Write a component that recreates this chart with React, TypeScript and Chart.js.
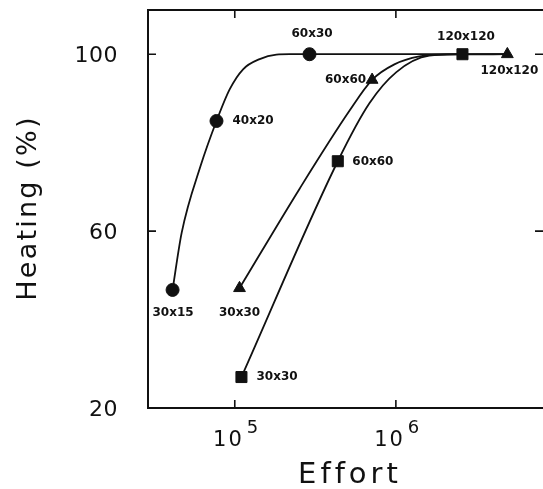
import React, { useEffect, useRef } from 'react';
import { Chart, registerables } from 'chart.js';

Chart.register(...registerables);

// ---- data ----
const xTickValues = [1e5, 1e6];
const xTickExponents = ['5', '6'];
const yTickValues = [20, 60, 100];

const circleEffort = [4.11e4, 7.7e4, 2.91e5];
const circleHeating = [46.7, 84.9, 100];
const circleLabels = ['30x15', '40x20', '60x30'];

const triangleEffort = [1.07e5, 7.12e5, 4.92e6];
const triangleHeating = [47.1, 94.2, 100];
const triangleLabels = ['30x30', '60x60', '120x120'];

const squareEffort = [1.1e5, 4.36e5, 2.59e6];
const squareHeating = [27.0, 75.8, 100];
const squareLabels = ['30x30', '60x60', '120x120'];

// traced points along the drawn curves
const circleCurveEffort = [4.11e4, 4.68e4, 6.13e4, 7.7e4, 9.31e4, 1.126e5, 1.428e5, 1.813e5, 2.19e5, 2.91e5, 4.92e6];
const circleCurveHeating = [46.7, 59.6, 74.7, 84.9, 92.1, 96.6, 98.9, 99.9, 100, 100, 100];

const triangleCurveEffort = [1.07e5, 2.527e5, 5.15e5, 7.12e5, 9.79e5, 1.398e6, 2.145e6, 4.92e6];
const triangleCurveHeating = [47.1, 69.6, 87.2, 94.2, 97.7, 99.5, 99.95, 100];

const squareCurveEffort = [1.1e5, 4.36e5, 6.85e5, 1.003e6, 1.612e6, 2.59e6];
const squareCurveHeating = [27.0, 75.8, 88.9, 95.9, 99.66, 100];

// ---- label placement (style, not data) ----
type Place = { dx: number; dy: number; align: CanvasTextAlign };
const circlePlaces: Place[] = [
  { dx: 0.5, dy: 23, align: 'center' },
  { dx: 16, dy: 0, align: 'left' },
  { dx: 2.5, dy: -20, align: 'center' },
];
const trianglePlaces: Place[] = [
  { dx: 0, dy: 25, align: 'center' },
  { dx: -6, dy: 0.5, align: 'right' },
  { dx: 2, dy: 17, align: 'center' },
];
const squarePlaces: Place[] = [
  { dx: 15, dy: 0, align: 'left' },
  { dx: 14.5, dy: 1, align: 'left' },
  { dx: 3.5, dy: -17.5, align: 'center' },
];

const INK = '#111111';
const FONT = '"DejaVu Sans", "Liberation Sans", sans-serif';

const pts = (xs: number[], ys: number[]) => xs.map((x, i) => ({ x, y: ys[i] }));

const frameAndTextPlugin = {
  id: 'frameAndText',
  afterDraw(chart: any) {
    const { ctx, chartArea: a, scales } = chart;
    const xs = scales.x;
    const ys = scales.y;
    ctx.save();
    // frame (no right-hand line, as in the reference)
    ctx.strokeStyle = INK;
    ctx.lineWidth = 2;
    ctx.beginPath();
    ctx.moveTo(a.left, a.top);
    ctx.lineTo(a.left, a.bottom);
    ctx.moveTo(a.left - 1, a.top);
    ctx.lineTo(chart.width, a.top);
    ctx.moveTo(a.left - 1, a.bottom);
    ctx.lineTo(chart.width, a.bottom);
    ctx.stroke();
    // inward ticks
    ctx.lineWidth = 1.6;
    ctx.beginPath();
    xTickValues.forEach((v) => {
      const px = xs.getPixelForValue(v);
      ctx.moveTo(px, a.top);
      ctx.lineTo(px, a.top + 8);
      ctx.moveTo(px, a.bottom);
      ctx.lineTo(px, a.bottom - 8);
    });
    yTickValues.forEach((v) => {
      const py = ys.getPixelForValue(v);
      ctx.moveTo(a.left, py);
      ctx.lineTo(a.left + 8, py);
      ctx.moveTo(a.right, py);
      ctx.lineTo(a.right - 8, py);
    });
    ctx.stroke();

    ctx.fillStyle = INK;
    // y tick labels
    ctx.letterSpacing = '0.5px';
    ctx.font = `22px ${FONT}`;
    ctx.textAlign = 'right';
    ctx.textBaseline = 'alphabetic';
    yTickValues.forEach((v) => {
      const py = ys.getPixelForValue(v);
      ctx.fillText(String(v), a.left - 30, py + 8);
    });
    // x tick labels: 10 with exponent
    xTickValues.forEach((v, i) => {
      const px = xs.getPixelForValue(v);
      ctx.letterSpacing = '2px';
      ctx.font = `21px ${FONT}`;
      ctx.textAlign = 'right';
      ctx.fillText('10', px + 9, a.bottom + 37.5);
      ctx.letterSpacing = '0px';
      ctx.font = `18px ${FONT}`;
      ctx.textAlign = 'left';
      ctx.fillText(xTickExponents[i], px + 12, a.bottom + 25);
    });
    // axis titles
    ctx.letterSpacing = '4px';
    ctx.font = `29px ${FONT}`;
    ctx.textAlign = 'center';
    ctx.fillText('Effort', 350, 483);
    ctx.save();
    ctx.letterSpacing = '2.2px';
    ctx.font = `27px ${FONT}`;
    ctx.translate(36, (a.top + a.bottom) / 2);
    ctx.rotate(-Math.PI / 2);
    ctx.textAlign = 'center';
    ctx.fillText('Heating (%)', 1, 0);
    ctx.restore();

    // point labels
    ctx.letterSpacing = '0px';
    ctx.font = `bold 12px ${FONT}`;
    ctx.textBaseline = 'middle';
    const groups: [number, string[], Place[]][] = [
      [0, circleLabels, circlePlaces],
      [1, triangleLabels, trianglePlaces],
      [2, squareLabels, squarePlaces],
    ];
    groups.forEach(([di, labels, places]) => {
      const meta = chart.getDatasetMeta(di);
      meta.data.forEach((el: any, j: number) => {
        const p = places[j];
        ctx.textAlign = p.align;
        ctx.fillText(labels[j], el.x + p.dx, el.y + p.dy);
      });
    });
    ctx.restore();
  },
};

export default function App() {
  const ref = useRef<HTMLCanvasElement | null>(null);
  useEffect(() => {
    if (!ref.current) return;
    const markerBase = {
      showLine: false,
      backgroundColor: INK,
      borderColor: INK,
      borderWidth: 1,
    };
    const curveBase = {
      showLine: true,
      pointRadius: 0,
      borderColor: INK,
      borderWidth: 1.8,
      cubicInterpolationMode: 'monotone' as const,
      fill: false,
    };
    const chart = new Chart(ref.current, {
      type: 'scatter',
      data: {
        datasets: [
          { ...markerBase, label: 'circle', data: pts(circleEffort, circleHeating), pointStyle: 'circle', pointRadius: 6.5 },
          { ...markerBase, label: 'triangle', data: pts(triangleEffort, triangleHeating), pointStyle: 'triangle', pointRadius: 6.8 },
          { ...markerBase, label: 'square', data: pts(squareEffort, squareHeating), pointStyle: 'rect', pointRadius: 7.8 },
          { ...curveBase, label: 'circle fit', data: pts(circleCurveEffort, circleCurveHeating) },
          { ...curveBase, label: 'triangle fit', data: pts(triangleCurveEffort, triangleCurveHeating) },
          { ...curveBase, label: 'square fit', data: pts(squareCurveEffort, squareCurveHeating) },
        ] as any,
      },
      options: {
        responsive: false,
        animation: false,
        events: [],
        layout: { autoPadding: false, padding: { left: 0, top: 10, right: -1, bottom: 0 } },
        plugins: { legend: { display: false }, tooltip: { enabled: false } },
        scales: {
          x: {
            type: 'logarithmic',
            min: 2.893e4,
            max: 8.19e6,
            grid: { display: false },
            border: { display: false },
            ticks: { display: false },
            afterBuildTicks: (s: any) => {
              s.ticks = xTickValues.map((v) => ({ value: v }));
            },
            afterFit: (s: any) => {
              s.height = 81;
            },
          },
          y: {
            type: 'linear',
            min: 20,
            max: 110,
            grid: { display: false },
            border: { display: false },
            ticks: { display: false },
            afterBuildTicks: (s: any) => {
              s.ticks = yTickValues.map((v) => ({ value: v }));
            },
            afterFit: (s: any) => {
              s.width = 148;
            },
          },
        },
      } as any,
      plugins: [frameAndTextPlugin],
    });
    return () => chart.destroy();
  }, []);
  return (
    <div style={{ position: 'fixed', left: 0, top: 0, width: 543, height: 489, overflow: 'hidden', background: '#fff' }}>
      <canvas ref={ref} width={543} height={489} style={{ display: 'block' }} />
    </div>
  );
}
